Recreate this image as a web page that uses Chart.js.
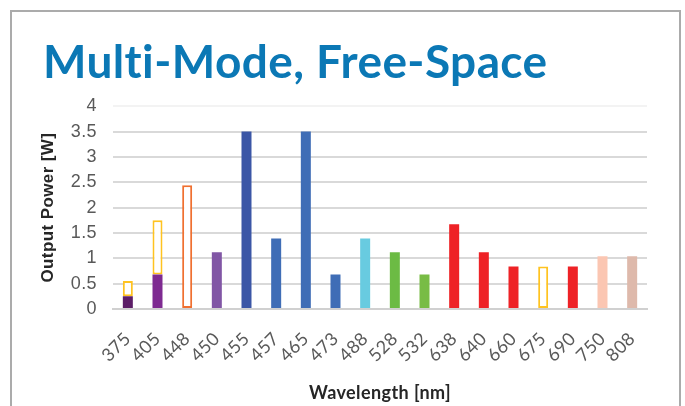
<!DOCTYPE html>
<html>
<head>
<meta charset="utf-8">
<script src="https://cdn.jsdelivr.net/npm/chart.js@4/dist/chart.umd.min.js"></script>
<style>
  html, body { margin: 0; padding: 0; background: #fff; overflow: hidden; }
  #frame { position: absolute; left: 10px; top: 10px; width: 667px; height: 500px; border: 2px solid #ababab; }
  #wrap { position: absolute; left: 0; top: 0; width: 685px; height: 406px; }
</style>
</head>
<body>
<div id="frame"></div>
<div id="wrap"><canvas id="chart"></canvas></div>
<script>
const categories = ['375', '405', '448', '450', '455', '457', '465', '473', '488', '528', '532', '638', '640', '660', '675', '690', '750', '808'];
// solid part of each bar (W)
const filledPower = [0.25, 0.68, 0, 1.12, 3.5, 1.39, 3.5, 0.68, 1.39, 1.12, 0.68, 1.67, 1.12, 0.84, 0, 0.84, 1.04, 1.04];
// hollow (outlined) part stacked on top
const outlinePower = [0.30, 1.07, 2.44, null, null, null, null, null, null, null, null, null, null, null, 0.84, null, null, null];
const fillColors = ['#5c1d67', '#7e2a91', '#ffffff', '#8156a5', '#3b56a6', '#3f6db6', '#3f6db6', '#3f6db6', '#68cbe0', '#6cbb44', '#78bc45', '#ee2226', '#ee2226', '#ee2226', '#ffffff', '#ee2226', '#fbc6b2', '#deb9ab'];
const outlineColors = ['#ffc320', '#ffc320', '#f07030', null, null, null, null, null, null, null, null, null, null, null, '#ffc320', null, null, null];
const yTicks = [0, 0.5, 1, 1.5, 2, 2.5, 3, 3.5, 4];

// small letter spacing keeps Lato from joining "ti" into a ligature
const noLigatures = {
  id: 'noLigatures',
  beforeDraw: chart => { chart.ctx.letterSpacing = '0.4px'; }
};

new Chart(document.getElementById('chart'), {
  type: 'bar',
  data: {
    labels: categories,
    datasets: [
      {
        label: 'Output',
        data: filledPower,
        backgroundColor: fillColors,
        borderWidth: 0,
        stack: 's'
      },
      {
        label: 'Outline',
        data: outlinePower,
        backgroundColor: '#ffffff',
        borderColor: outlineColors.map(c => c || 'transparent'),
        borderWidth: 2,
        borderSkipped: false,
        stack: 's'
      }
    ]
  },
  plugins: [noLigatures],
  options: {
    responsive: true,
    maintainAspectRatio: false,
    animation: false,
    categoryPercentage: 0.337,
    barPercentage: 1,
    layout: { padding: { left: 43, right: 38, top: 0, bottom: 0 } },
    plugins: {
      legend: { display: false },
      tooltip: { enabled: false },
      title: {
        display: true,
        text: 'Multi-Mode, Free-Space',
        align: 'start',
        color: '#0b78b5',
        font: { family: 'Lato', size: 46, weight: 'bold' },
        padding: { top: 36, bottom: 15 }
      }
    },
    scales: {
      x: {
        stacked: true,
        grid: { display: false, drawTicks: false },
        border: { display: true, color: '#d0d0d0', width: 2 },
        ticks: {
          color: '#595959',
          font: { family: 'Lato', size: 18 },
          autoSkip: false,
          minRotation: 45,
          maxRotation: 45,
          padding: 19
        },
        title: {
          display: true,
          text: 'Wavelength [nm]',
          color: '#262626',
          font: { family: 'Lato', size: 18, weight: 'bold' },
          padding: { top: 0, bottom: 2 }
        },
        afterFit: s => { s.height = 97; }
      },
      y: {
        stacked: true,
        min: 0,
        max: 4,
        afterBuildTicks: s => { s.ticks = yTicks.map(v => ({ value: v })); },
        grid: {
          color: c => (c.tick && c.tick.value === 4 ? '#f3f3f3' : '#d9d9d9'),
          lineWidth: 2,
          drawTicks: false
        },
        border: { display: false },
        ticks: {
          color: '#595959',
          font: { family: 'Liberation Sans', size: 18 },
          padding: 16,
          callback: v => String(v)
        },
        title: {
          display: true,
          text: 'Output Power [W]',
          color: '#262626',
          font: { family: 'Liberation Sans', size: 17, weight: 'bold' },
          padding: { top: -5, bottom: 0 }
        },
        afterFit: s => { s.width = 70; }
      }
    }
  }
});
</script>
</body>
</html>
